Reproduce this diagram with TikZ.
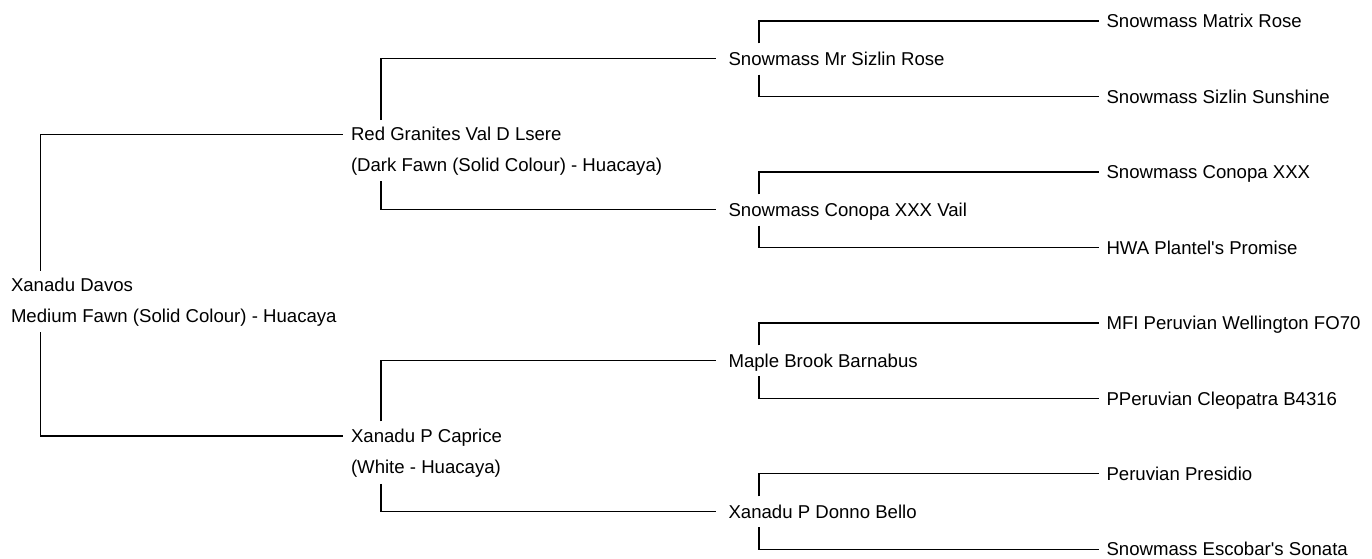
\documentclass[tikz,border=0pt]{standalone}
\usepackage{fontspec}
\setmainfont{Liberation Sans}
\usepackage{tikz}
\usetikzlibrary{positioning}

\begin{document}
\begin{tikzpicture}[x=1pt,y=-1pt,
animal/.style={anchor=west,inner sep=0pt,outer xsep=8pt,text height=13.3pt,text depth=0pt,font=\fontsize{18.6}{22}\selectfont},
mid/.style={animal,outer xsep=12.5pt},
link/.style={line width=1.3pt}]
\useasboundingbox (0,0) rectangle (1372,558);
% generation 1
\node[animal] (davos) at (3,285) {Xanadu Davos};
\node[animal,below=16.7pt of davos.south west,anchor=north west] (davoscol) {Medium Fawn (Solid Colour) - Huacaya};
% generation 2
\node[animal] (granites) at (343,134.2) {Red Granites Val D Lsere};
\node[animal,below=16.7pt of granites.south west,anchor=north west] (granitescol) {(Dark Fawn (Solid Colour) - Huacaya)};
\node[animal] (caprice) at (343,436.1) {Xanadu P Caprice};
\node[animal,below=16.7pt of caprice.south west,anchor=north west] (capricecol) {(White - Huacaya)};
% generation 3
\node[mid] (sizlin) at (716,58.7) {Snowmass Mr Sizlin Rose};
\node[mid] (conopavail) at (716,209.7) {Snowmass Conopa XXX Vail};
\node[mid] (barnabus) at (716,360.6) {Maple Brook Barnabus};
\node[mid] (donno) at (716,511.5) {Xanadu P Donno Bello};
% generation 4
\node[animal] (matrixrose) at (1098.5,21) {Snowmass Matrix Rose};
\node[animal] (sunshine) at (1098.5,96.5) {Snowmass Sizlin Sunshine};
\node[animal] (conopa) at (1098.5,172) {Snowmass Conopa XXX};
\node[animal] (plantel) at (1098.5,247.4) {HWA Plantel\textquotesingle s Promise};
\node[animal] (wellington) at (1098.5,322.9) {MFI Peruvian Wellington FO70};
\node[animal] (cleopatra) at (1098.5,398.4) {PPeruvian Cleopatra B4316};
\node[animal] (presidio) at (1098.5,473.8) {Peruvian Presidio};
\node[animal] (sonata) at (1098.5,549.3) {Snowmass Escobar\textquotesingle s Sonata};
% links
\draw[link] ([xshift=37.7pt,yshift=7.3pt]davos.north west) |- (granites.west);
\draw[link] ([xshift=37.7pt,yshift=-10pt]davoscol.south west) |- (caprice.west);
\draw[link] ([xshift=38pt,yshift=7.3pt]granites.north west) |- (sizlin.west);
\draw[link] ([xshift=38pt,yshift=-10pt]granitescol.south west) |- (conopavail.west);
\draw[link] ([xshift=38pt,yshift=8pt]caprice.north west) |- (barnabus.west);
\draw[link] ([xshift=38pt,yshift=-10.5pt]capricecol.south west) |- (donno.west);
\draw[link] ([xshift=43pt,yshift=8.4pt]sizlin.north west) |- (matrixrose.west);
\draw[link] ([xshift=43pt,yshift=-9pt]sizlin.south west) |- (sunshine.west);
\draw[link] ([xshift=43pt,yshift=8.4pt]conopavail.north west) |- (conopa.west);
\draw[link] ([xshift=43pt,yshift=-9pt]conopavail.south west) |- (plantel.west);
\draw[link] ([xshift=43pt,yshift=8.4pt]barnabus.north west) |- (wellington.west);
\draw[link] ([xshift=43pt,yshift=-9pt]barnabus.south west) |- (cleopatra.west);
\draw[link] ([xshift=43pt,yshift=8.4pt]donno.north west) |- (presidio.west);
\draw[link] ([xshift=43pt,yshift=-9pt]donno.south west) |- (sonata.west);
\end{tikzpicture}
\end{document}
